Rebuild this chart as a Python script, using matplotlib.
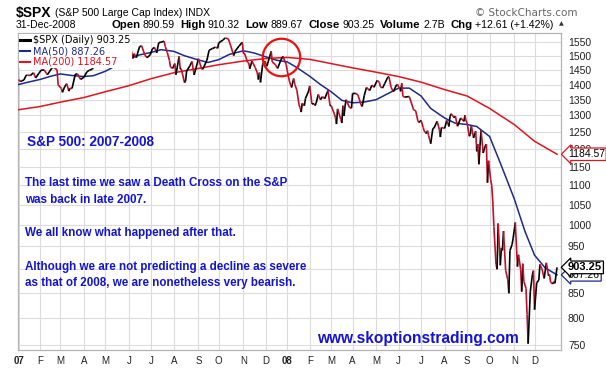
import numpy as np
import pandas as pd
import matplotlib
matplotlib.use('Agg')
import matplotlib.pyplot as plt
from matplotlib.collections import LineCollection
from matplotlib.lines import Line2D
from matplotlib.ticker import FixedLocator, FixedFormatter, NullLocator, NullFormatter

# NYSE holidays, to build the trading-day axis
holidays = ['2007-01-01', '2007-01-02', '2007-01-15', '2007-02-19', '2007-04-06', '2007-05-28',
            '2007-07-04', '2007-09-03', '2007-11-22', '2007-12-25',
            '2008-01-01', '2008-01-21', '2008-02-18', '2008-03-21', '2008-05-26', '2008-07-04',
            '2008-09-01', '2008-11-27', '2008-12-25']

price_dates = [
    '2007-01-03', '2007-01-05', '2007-01-08', '2007-01-10', '2007-01-12', '2007-01-16', '2007-01-19',
    '2007-01-24', '2007-01-26', '2007-01-31', '2007-02-02', '2007-02-07', '2007-02-09', '2007-02-12',
    '2007-02-16', '2007-02-20', '2007-02-22', '2007-02-26', '2007-02-27', '2007-03-02', '2007-03-05',
    '2007-03-07', '2007-03-09', '2007-03-13', '2007-03-14', '2007-03-16', '2007-03-21', '2007-03-23',
    '2007-03-28', '2007-04-02', '2007-04-05', '2007-04-10', '2007-04-13', '2007-04-17', '2007-04-20',
    '2007-04-25', '2007-04-27', '2007-05-02', '2007-05-04', '2007-05-08', '2007-05-10', '2007-05-11',
    '2007-05-16', '2007-05-18', '2007-05-22', '2007-05-24', '2007-05-30', '2007-06-01', '2007-06-04',
    '2007-06-07', '2007-06-08', '2007-06-12', '2007-06-15', '2007-06-19', '2007-06-22', '2007-06-26',
    '2007-06-29', '2007-07-03', '2007-07-06', '2007-07-10', '2007-07-12', '2007-07-16', '2007-07-19',
    '2007-07-20', '2007-07-24', '2007-07-26', '2007-07-27', '2007-07-31', '2007-08-02', '2007-08-03',
    '2007-08-08', '2007-08-09', '2007-08-10', '2007-08-15', '2007-08-16', '2007-08-17', '2007-08-22',
    '2007-08-24', '2007-08-28', '2007-08-31', '2007-09-04', '2007-09-07', '2007-09-10', '2007-09-14',
    '2007-09-18', '2007-09-21', '2007-09-26', '2007-09-28', '2007-10-01', '2007-10-05', '2007-10-09',
    '2007-10-12', '2007-10-16', '2007-10-19', '2007-10-22', '2007-10-26', '2007-10-31', '2007-11-01',
    '2007-11-02', '2007-11-07', '2007-11-08', '2007-11-09', '2007-11-13', '2007-11-16', '2007-11-20',
    '2007-11-21', '2007-11-23', '2007-11-26', '2007-11-28', '2007-11-30', '2007-12-04', '2007-12-10',
    '2007-12-11', '2007-12-14', '2007-12-18', '2007-12-21', '2007-12-26', '2007-12-28', '2007-12-31',
    '2008-01-02', '2008-01-04', '2008-01-08', '2008-01-10', '2008-01-11', '2008-01-15', '2008-01-17',
    '2008-01-18', '2008-01-22', '2008-01-23', '2008-01-25', '2008-01-28', '2008-01-31', '2008-02-01',
    '2008-02-05', '2008-02-07', '2008-02-08', '2008-02-11', '2008-02-13', '2008-02-15', '2008-02-20',
    '2008-02-22', '2008-02-27', '2008-02-29', '2008-03-03', '2008-03-06', '2008-03-07', '2008-03-10',
    '2008-03-11', '2008-03-14', '2008-03-17', '2008-03-18', '2008-03-19', '2008-03-20', '2008-03-24',
    '2008-03-27', '2008-03-31', '2008-04-01', '2008-04-04', '2008-04-08', '2008-04-11', '2008-04-14',
    '2008-04-16', '2008-04-18', '2008-04-23', '2008-04-25', '2008-04-29', '2008-05-02', '2008-05-06',
    '2008-05-07', '2008-05-09', '2008-05-13', '2008-05-16', '2008-05-19', '2008-05-21', '2008-05-23',
    '2008-05-29', '2008-05-30', '2008-06-04', '2008-06-05', '2008-06-06', '2008-06-10', '2008-06-13',
    '2008-06-16', '2008-06-20', '2008-06-24', '2008-06-26', '2008-06-27', '2008-07-01', '2008-07-03',
    '2008-07-07', '2008-07-09', '2008-07-10', '2008-07-11', '2008-07-15', '2008-07-17', '2008-07-18',
    '2008-07-23', '2008-07-25', '2008-07-28', '2008-07-29', '2008-08-01', '2008-08-05', '2008-08-07',
    '2008-08-08', '2008-08-11', '2008-08-14', '2008-08-15', '2008-08-19', '2008-08-22', '2008-08-27',
    '2008-08-28', '2008-08-29', '2008-09-02', '2008-09-04', '2008-09-05', '2008-09-08', '2008-09-10',
    '2008-09-12', '2008-09-15', '2008-09-16', '2008-09-17', '2008-09-18', '2008-09-19', '2008-09-23',
    '2008-09-25', '2008-09-26', '2008-09-29', '2008-09-30', '2008-10-02', '2008-10-03', '2008-10-06',
    '2008-10-07', '2008-10-09', '2008-10-10', '2008-10-13', '2008-10-15', '2008-10-16', '2008-10-17',
    '2008-10-20', '2008-10-22', '2008-10-24', '2008-10-27', '2008-10-28', '2008-10-30', '2008-10-31',
    '2008-11-04', '2008-11-06', '2008-11-07', '2008-11-11', '2008-11-12', '2008-11-13', '2008-11-14',
    '2008-11-18', '2008-11-19', '2008-11-20', '2008-11-21', '2008-11-24', '2008-11-26', '2008-11-28',
    '2008-12-01', '2008-12-03', '2008-12-05', '2008-12-08', '2008-12-10', '2008-12-12', '2008-12-16',
    '2008-12-18', '2008-12-19', '2008-12-22', '2008-12-24', '2008-12-26', '2008-12-29', '2008-12-31']

price_close = [
    1416.6, 1409.7, 1412.8, 1414.9, 1430.7, 1431.9, 1430.5,
    1440.1, 1422.2, 1438.2, 1448.4, 1450.0, 1438.1, 1433.4,
    1455.5, 1459.7, 1456.4, 1449.4, 1399.0, 1387.2, 1374.1,
    1392.0, 1402.8, 1378.0, 1387.2, 1387.0, 1435.0, 1436.1,
    1417.2, 1424.5, 1443.8, 1448.4, 1452.9, 1471.5, 1484.4,
    1495.4, 1494.1, 1502.4, 1505.6, 1507.7, 1491.5, 1505.9,
    1514.1, 1522.8, 1524.1, 1507.5, 1530.2, 1536.3, 1539.2,
    1490.7, 1507.7, 1493.0, 1532.9, 1535.9, 1502.6, 1492.9,
    1503.4, 1524.9, 1530.4, 1510.1, 1547.7, 1549.5, 1553.1,
    1534.1, 1511.0, 1482.7, 1459.0, 1455.3, 1472.2, 1433.1,
    1497.5, 1453.1, 1453.6, 1406.7, 1411.3, 1445.9, 1464.1,
    1479.4, 1432.4, 1474.0, 1489.4, 1453.6, 1451.7, 1484.3,
    1519.8, 1525.8, 1531.4, 1526.8, 1547.0, 1557.6, 1565.2,
    1561.8, 1538.5, 1500.6, 1515.0, 1535.3, 1549.4, 1508.4,
    1509.7, 1475.6, 1474.8, 1453.7, 1481.1, 1458.7, 1439.7,
    1416.8, 1440.7, 1407.2, 1469.0, 1481.1, 1462.8, 1516.0,
    1477.7, 1468.0, 1455.0, 1484.5, 1497.7, 1478.5, 1468.4,
    1447.2, 1411.6, 1390.2, 1420.3, 1401.0, 1381.0, 1333.3,
    1325.2, 1310.5, 1338.6, 1330.6, 1354.0, 1378.6, 1395.4,
    1336.6, 1336.9, 1331.3, 1339.1, 1367.2, 1350.0, 1360.0,
    1353.1, 1380.0, 1330.6, 1331.3, 1304.3, 1293.4, 1273.4,
    1320.7, 1288.1, 1276.6, 1330.7, 1298.4, 1329.5, 1349.9,
    1325.8, 1322.7, 1370.2, 1370.4, 1365.5, 1332.8, 1328.3,
    1364.7, 1390.3, 1379.9, 1397.8, 1390.9, 1413.9, 1407.5,
    1392.6, 1388.3, 1403.0, 1425.4, 1426.6, 1390.7, 1375.9,
    1398.3, 1400.4, 1377.2, 1404.1, 1360.7, 1358.4, 1360.0,
    1360.1, 1317.9, 1314.3, 1283.2, 1278.4, 1284.9, 1262.9,
    1252.3, 1244.7, 1253.4, 1239.5, 1214.9, 1260.3, 1260.7,
    1282.2, 1257.8, 1234.4, 1263.2, 1260.3, 1284.9, 1266.1,
    1296.3, 1305.3, 1292.9, 1298.2, 1266.7, 1292.2, 1281.7,
    1300.7, 1282.8, 1277.6, 1236.8, 1242.3, 1267.8, 1232.0,
    1251.7, 1192.7, 1213.6, 1156.4, 1206.5, 1255.1, 1188.2,
    1209.2, 1213.3, 1106.4, 1166.4, 1114.3, 1099.2, 1056.9,
    996.2, 909.9, 899.2, 1003.4, 907.8, 946.4, 940.6,
    985.4, 896.8, 876.8, 848.9, 940.5, 954.1, 968.8,
    1005.8, 904.9, 931.0, 899.0, 852.3, 911.3, 873.3,
    859.1, 806.6, 752.4, 800.0, 851.8, 887.7, 896.2,
    816.2, 870.7, 876.1, 909.7, 899.2, 879.7, 913.2,
    885.3, 887.9, 871.6, 868.2, 872.8, 869.4, 903.25]

ma50_dates = ['2007-01-03', '2007-01-17', '2007-02-01', '2007-02-15', '2007-03-01', '2007-03-15',
              '2007-04-02', '2007-04-16', '2007-05-01', '2007-05-15', '2007-06-01', '2007-06-15',
              '2007-07-02', '2007-07-16', '2007-08-01', '2007-08-15', '2007-09-04', '2007-09-17',
              '2007-10-01', '2007-10-15', '2007-11-01', '2007-11-15', '2007-12-03', '2007-12-17',
              '2008-01-02', '2008-01-15', '2008-02-01', '2008-02-15', '2008-03-03', '2008-03-17',
              '2008-04-01', '2008-04-15', '2008-05-01', '2008-05-15', '2008-06-02', '2008-06-16',
              '2008-07-01', '2008-07-15', '2008-08-01', '2008-08-15', '2008-09-02', '2008-09-15',
              '2008-10-01', '2008-10-15', '2008-11-03', '2008-11-17', '2008-12-01', '2008-12-15',
              '2008-12-31']
ma50_vals = [1400, 1408, 1417, 1428, 1436, 1431,
             1427, 1430, 1445, 1465, 1488, 1503,
             1512, 1522, 1516, 1500, 1485, 1476,
             1486, 1505, 1518, 1510, 1496, 1484,
             1478, 1458, 1428, 1400, 1376, 1348,
             1340, 1342, 1350, 1368, 1388, 1388,
             1362, 1322, 1292, 1276, 1272, 1266,
             1236, 1160, 1065, 985, 930, 902,
             887.26]

ma200_dates = ['2007-01-03', '2007-02-01', '2007-03-01', '2007-04-02', '2007-05-01', '2007-06-01',
               '2007-07-02', '2007-08-01', '2007-09-04', '2007-10-01', '2007-11-01', '2007-12-03',
               '2008-01-02', '2008-02-01', '2008-03-03', '2008-04-01', '2008-05-01', '2008-06-02',
               '2008-07-01', '2008-08-01', '2008-09-02', '2008-10-01', '2008-11-03', '2008-12-01',
               '2008-12-31']
ma200_vals = [1318, 1328, 1342, 1357, 1376, 1396,
              1420, 1440, 1455, 1468, 1481, 1490,
              1494, 1487, 1472, 1457, 1442, 1427,
              1408, 1383, 1362, 1322, 1272, 1222,
              1184.57]

month_labels = ['07', 'F', 'M', 'A', 'M', 'J', 'J', 'A', 'S', 'O', 'N', 'D',
                '08', 'F', 'M', 'A', 'M', 'J', 'J', 'A', 'S', 'O', 'N', 'D']
price_ticks = [750, 800, 850, 950, 1000, 1050, 1100, 1150, 1200,
               1250, 1300, 1350, 1400, 1450, 1500, 1550]

W, H = 606, 378
BLUE_TXT = '#1414d2'
RED = '#e0141e'
NAVY = '#1e2a8c'

days = pd.bdate_range('2007-01-01', '2008-12-31')
days = days[~days.isin(pd.to_datetime(holidays))]
pos = pd.Series(np.arange(len(days)), index=days)


def to_x(dates):
    return pos[pd.to_datetime(dates)].values.astype(float)


month_starts = pos.groupby([days.year, days.month]).first().values

fig = plt.figure(figsize=(W / 100, H / 100), dpi=100)
fig.patch.set_facecolor('white')
ax = fig.add_axes([18 / W, 1 - 350 / H, 543 / W, 317 / H])

ax.set_yscale('log')
ax.set_ylim(741, 1584)
ax.set_xlim(-0.5, 506.7)

# price line, black on up moves and red on down moves
px = to_x(price_dates)
py = np.array(price_close)
segs = np.stack([np.column_stack([px[:-1], py[:-1]]), np.column_stack([px[1:], py[1:]])], axis=1)
cols = ['black' if b >= a else '#c0102a' for a, b in zip(py[:-1], py[1:])]
ax.add_collection(LineCollection(segs, colors=cols, linewidths=1.2, zorder=4))

ax.plot(to_x(ma50_dates), ma50_vals, color=NAVY, lw=1.1, zorder=3)
ax.plot(to_x(ma200_dates), ma200_vals, color=RED, lw=1.1, zorder=3)

# death cross marker
ax.plot(pos[pd.Timestamp('2007-12-21')], 1496, 'o', ms=27, mfc='none', mec='#e81010', mew=1.6, zorder=6)

# axes styling
ax.yaxis.tick_right()
ax.yaxis.set_major_locator(FixedLocator(price_ticks))
ax.yaxis.set_major_formatter(FixedFormatter([str(v) for v in price_ticks]))
ax.yaxis.set_minor_locator(NullLocator())
ax.yaxis.set_minor_formatter(NullFormatter())
ax.set_xticks(month_starts)
ax.set_xticklabels(month_labels)
for lab, txt in zip(ax.get_xticklabels(), month_labels):
    if txt in ('07', '08'):
        lab.set_fontweight('bold')
        lab.set_fontsize(8)
ax.tick_params(axis='y', length=0, pad=5, labelsize=7.5, labelcolor='#222222')
ax.tick_params(axis='x', length=0, pad=4, labelsize=7, labelcolor='#222222')
for lab in ax.get_yticklabels() + ax.get_xticklabels():
    lab.set_fontfamily('Liberation Sans')
ax.grid(True, color='#dcdcdc', lw=0.8)
ax.axhline(900, color='#dcdcdc', lw=0.8, zorder=0)
ax.set_axisbelow(True)
for s in ax.spines.values():
    s.set_color('#b4b4b4')
    s.set_linewidth(0.9)

# legend
handles = [Line2D([], [], color='black', lw=2.2),
           Line2D([], [], color=NAVY, lw=1.5),
           Line2D([], [], color=RED, lw=1.5)]
leg = ax.legend(handles, ['$SPX (Daily) 903.25', 'MA(50) 887.26', 'MA(200) 1184.57'],
                loc='upper left', fontsize=7, handlelength=1.0, handletextpad=0.3,
                labelspacing=0.08, borderpad=0.15, borderaxespad=0.1,
                frameon=True, facecolor='white', edgecolor='none', framealpha=1,
                labelcolor=['black', NAVY, RED])
leg.get_frame().set_boxstyle('square', pad=0)
leg.set_zorder(8)


# value tags on the right axis
def tag(val, text, ec, weight='normal', size=7.5):
    ax.annotate(text, xy=(1.0, val), xycoords=ax.get_yaxis_transform(),
                xytext=(5, 0), textcoords='offset points', ha='left', va='center',
                fontsize=size, fontweight=weight, family='Liberation Sans', color='black',
                bbox=dict(boxstyle='larrow,pad=0.12', fc='white', ec=ec, lw=0.9),
                annotation_clip=False, zorder=10)


tag(ma200_vals[-1], '1184.57', RED)
tag(ma50_vals[-1], '887.26', NAVY)
tag(price_close[-1], '903.25', 'black', weight='bold', size=8)

# blue commentary
fig.text(27 / W, 1 - 141.5 / H, 'S&P 500: 2007-2008', color=BLUE_TXT, fontsize=9.8,
         fontweight='bold', family='Liberation Sans', va='center')
notes = [('The last time we saw a Death Cross on the S&P', 183),
         ('was back in late 2007.', 200),
         ('We all know what happened after that.', 233),
         ('Although we are not predicting a decline as severe', 267),
         ('as that of 2008, we are nonetheless very bearish.', 283)]
for txt, y in notes:
    fig.text(25 / W, 1 - y / H, txt, color=BLUE_TXT, fontsize=8.4, fontweight='bold',
             family='Liberation Sans', va='center')
fig.text(317 / W, 1 - 338 / H, 'www.skoptionstrading.com', color=BLUE_TXT, fontsize=11.2,
         fontweight='bold', family='Liberation Sans', va='center')

# header
fig.text(16 / W, 1 - 12.5 / H, '$SPX', fontsize=10, fontweight='bold', family='Liberation Sans',
         va='center')
fig.text(55 / W, 1 - 12.5 / H, '(S&P 500 Large Cap Index) INDX', fontsize=7.5,
         family='Liberation Sans', va='center')
fig.text(475 / W, 1 - 12.5 / H, '\u00a9 StockCharts.com', fontsize=7.5, color='#666666',
         family='DejaVu Sans', va='center')
fig.text(16 / W, 1 - 24.5 / H, '31-Dec-2008', fontsize=7.5, family='Liberation Sans', va='center')

fig.canvas.draw()
rend = fig.canvas.get_renderer()
pieces = [('Open', 'bold'), ('890.59', 'normal'), ('High', 'bold'), ('910.32', 'normal'),
          ('Low', 'bold'), ('889.67', 'normal'), ('Close', 'bold'), ('903.25', 'normal'),
          ('Volume', 'bold'), ('2.7B', 'normal'), ('Chg', 'bold'), ('+12.61 (+1.42%)', 'normal')]
xp = 111
for s, w in pieces:
    t = fig.text(xp / W, 1 - 24.5 / H, s, fontsize=8.2 if w == 'bold' else 7.6, fontweight=w,
                 family='Liberation Sans', va='center')
    xp += t.get_window_extent(rend).width + (2.5 if w == 'bold' else 5.5)
fig.text(xp / W, 1 - 24 / H, '\u25b2', fontsize=4.5, color='#333333', va='center')

fig.savefig('out.png', dpi=100, facecolor='white')
